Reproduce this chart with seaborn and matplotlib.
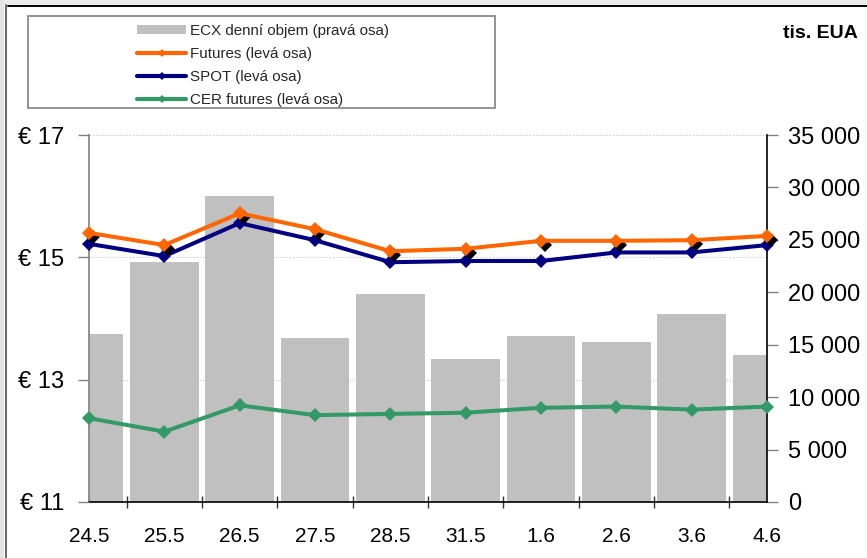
import numpy as np
import pandas as pd
import matplotlib
matplotlib.use("Agg")
import matplotlib.pyplot as plt
import seaborn as sns
from matplotlib.patches import Rectangle, Patch
from matplotlib.lines import Line2D
from matplotlib.ticker import FuncFormatter, FixedLocator
from matplotlib.transforms import offset_copy, blended_transform_factory

# ---------------- data ----------------
dates = ["24.5", "25.5", "26.5", "27.5", "28.5", "31.5", "1.6", "2.6", "3.6", "4.6"]
ecx_volume = [16000, 22870, 29150, 15650, 19850, 13650, 15830, 15300, 17950, 14020]
futures = [15.40, 15.20, 15.72, 15.46, 15.10, 15.14, 15.27, 15.27, 15.28, 15.35]
spot = [15.22, 15.02, 15.56, 15.28, 14.92, 14.94, 14.94, 15.08, 15.08, 15.20]
cer_futures = [12.37, 12.15, 12.58, 12.42, 12.44, 12.46, 12.54, 12.56, 12.51, 12.56]
left_ticks = [11, 13, 15, 17]
right_ticks = [0, 5000, 10000, 15000, 20000, 25000, 30000, 35000]
legend_labels = ["ECX denní objem (pravá osa)", "Futures (levá osa)",
                 "SPOT (levá osa)", "CER futures (levá osa)"]
unit_label = "tis. EUA"

C_BAR = "#C0C0C0"
C_FUT = "#FF6600"
C_SPOT = "#000080"
C_CER = "#339966"

sns.set_theme(style="white")
plt.rcParams["font.family"] = ["Liberation Sans", "DejaVu Sans"]

W, H = 867, 558
fig = plt.figure(figsize=(W / 100, H / 100), dpi=100)
fig.patch.set_facecolor("white")


def fx(x):
    return x / W


def fy(y):
    return 1 - y / H


ax = fig.add_axes([fx(89), fy(502), fx(767) - fx(89), fy(135) - fy(502)])
axL = ax.twinx()
ax.yaxis.tick_right()
axL.yaxis.tick_left()

# bars (right axis scale)
df_bar = pd.DataFrame({"date": dates, "volume": ecx_volume})
sns.barplot(data=df_bar, x="date", y="volume", ax=ax, color=C_BAR,
            saturation=1, width=0.91, linewidth=0, zorder=1)

# gridlines at left-axis ticks, behind bars
gtrans = blended_transform_factory(ax.transAxes, axL.transData)
for v in left_ticks[1:]:
    ax.plot([0, 1], [v, v], transform=gtrans, color="#cfcfcf",
            lw=0.8, ls=(0, (1.5, 1.5)), zorder=0.5)

xpos = np.arange(len(dates))
line_kw = dict(marker="D", markersize=7.3, linewidth=2.9, markeredgewidth=0,
               clip_on=False, legend=False)
sns.lineplot(x=xpos, y=cer_futures, ax=axL, color=C_CER, zorder=3, **line_kw)
sns.lineplot(x=xpos, y=spot, ax=axL, color=C_SPOT, zorder=3, **line_kw)
# shadow of futures markers
axL.plot(xpos, futures, linestyle="none", marker="D", markersize=7.3,
         markeredgewidth=0, color="black", clip_on=False, zorder=3.5,
         transform=offset_copy(axL.transData, fig=fig, x=4, y=-4, units="dots"))
sns.lineplot(x=xpos, y=futures, ax=axL, color=C_FUT, zorder=4, **line_kw)

# axes limits
ax.set_xlim(0, len(dates) - 1)
ax.set_ylim(right_ticks[0], right_ticks[-1])
axL.set_ylim(left_ticks[0], left_ticks[-1])

# right axis ticks
ax.set_yticks(right_ticks)
ax.yaxis.set_major_formatter(FuncFormatter(lambda v, p: f"{v:,.0f}".replace(",", " ")))
ax.tick_params(axis="y", which="major", direction="out", length=8, width=1,
               color="#808080", labelsize=17, pad=7, right=True, left=False,
               labelright=True, labelleft=False, labelcolor="black")
# left axis ticks
axL.set_yticks(left_ticks)
axL.set_yticklabels([f"€ {v}" for v in left_ticks])
axL.tick_params(axis="y", which="major", direction="out", length=8, width=1,
                color="#808080", labelsize=17, pad=10, left=True, right=False,
                labelleft=True, labelright=False, labelcolor="black")
# x axis
ax.set_xticks(xpos)
ax.set_xticklabels(dates)
ax.xaxis.set_minor_locator(FixedLocator([0] + [i + 0.5 for i in range(len(dates) - 1)] + [len(dates) - 1]))
ax.tick_params(axis="x", which="major", length=0, labelsize=15, pad=18, labelcolor="black")
ax.tick_params(axis="x", which="minor", direction="inout", length=9, width=1,
               color="#333333", bottom=True)

ax.set_xlabel("")
ax.set_ylabel("")
axL.set_xlabel("")
axL.set_ylabel("")

ax.spines["top"].set_visible(False)
ax.spines["left"].set_color("#808080")
ax.spines["left"].set_linewidth(1.2)
ax.spines["right"].set_color("black")
ax.spines["right"].set_linewidth(1.2)
ax.spines["bottom"].set_color("black")
ax.spines["bottom"].set_linewidth(1.2)
for s in axL.spines.values():
    s.set_visible(False)

# legend
handles = [
    Patch(facecolor=C_BAR, edgecolor="none"),
    Line2D([], [], color=C_FUT, lw=3, marker="D", ms=4.5, mew=0),
    Line2D([], [], color=C_SPOT, lw=3, marker="D", ms=4.5, mew=0),
    Line2D([], [], color=C_CER, lw=3, marker="D", ms=4.5, mew=0),
]
fig.legend(handles, legend_labels, loc="upper left",
           bbox_to_anchor=(fx(137), fy(24)), bbox_transform=fig.transFigure,
           frameon=False, fontsize=10.9, handlelength=3.25, handleheight=0.5,
           handletextpad=0.27, labelspacing=0.6, borderpad=0, borderaxespad=0)
fig.patches.append(Rectangle((fx(28), fy(108)), fx(495) - fx(28), fy(16) - fy(108),
                             transform=fig.transFigure, fill=False,
                             edgecolor="#8a8a8a", lw=1.3))

fig.text(fx(858), fy(33), unit_label, ha="right", va="center",
         fontsize=14, fontweight="bold", color="black")

# outer frame decoration
fig.patches.append(Rectangle((0, fy(5)), 1, 1 - fy(5), transform=fig.transFigure,
                             facecolor="#ececec", edgecolor="none"))
fig.patches.append(Rectangle((0, 0), fx(4), 1, transform=fig.transFigure,
                             facecolor="#e4e4e4", edgecolor="none"))
fig.add_artist(Line2D([fx(5.5), fx(5.5)], [0, fy(5)], transform=fig.transFigure,
                      color="#4d4d4d", lw=1.2))
fig.add_artist(Line2D([fx(8), 1], [fy(6), fy(6)], transform=fig.transFigure,
                      color="black", lw=1.4))

fig.savefig("out.png", dpi=100)
